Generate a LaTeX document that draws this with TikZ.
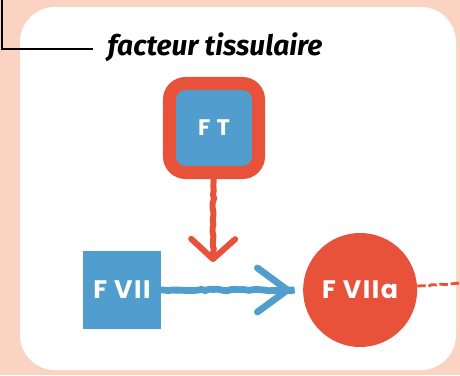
\documentclass[tikz,border=0pt]{standalone}
\usepackage{fontspec}
\newfontfamily\labelfont[LetterSpace=6]{Poppins}
\newfontfamily\handfont{Fira Sans}
\usetikzlibrary{arrows.meta, positioning, decorations.pathmorphing}
\definecolor{peach}{HTML}{FAD3C3}
\definecolor{ftred}{HTML}{E8513A}
\definecolor{ftblue}{HTML}{519DCD}

\begin{document}
\begin{tikzpicture}[
    x=0.025cm, y=-0.025cm,
    factor/.style={rectangle, fill=ftblue, text=white, inner sep=0pt, minimum size=1.925cm, font=\labelfont\bfseries\fontsize{18}{18}\selectfont},
    tissue/.style={factor, draw=ftred, line width=0.325cm, minimum size=2.225cm, rounded corners=0.4cm, font=\labelfont\bfseries\fontsize{16}{16}\selectfont},
    active/.style={circle, fill=ftred, text=white, inner sep=0pt, minimum size=2.85cm, font=\labelfont\bfseries\fontsize{18}{18}\selectfont},
    rough/.style={decorate, decoration={random steps, segment length=3pt, amplitude=0.6pt, pre length=2pt, post length=6pt}},
    redarrow/.style={rough, draw=ftred, line width=0.15cm, -{Straight Barb[length=0.5cm, width=1.1cm, round]}},
    bluearrow/.style={rough, draw=ftblue, line width=0.17cm, -{Straight Barb[length=0.75cm, width=1.1cm, round]}},
    reddash/.style={rough, draw=ftred, line width=0.07cm, dash pattern=on 6pt off 2pt}
]
\useasboundingbox (0,0) rectangle (460,375);

% Background and panel
\fill[peach] (0,0) rectangle (460,375);
\fill[white, rounded corners=0.875cm] (20,7) rectangle (456,370);

% Label with leader line
\node[font=\handfont\bfseries\itshape\fontsize{20}{20}\selectfont] (ftlabel) at (215,47) {facteur tissulaire};
\coordinate (leadtop) at (2,-2);
\draw[line width=0.05cm] (leadtop) |- ([xshift=-0.25cm, yshift=-0.05cm]ftlabel.west);

% Factors
\node[tissue] (ft) at (214,128) {F T};
\node[factor] (fvii) at (122,290) {F VII};
\node[active, right=3.55cm of fvii] (fviia) {F VIIa};

% Arrows
\coordinate (ftend) at (213,262);
\coordinate (outend) at (462,283);
\draw[redarrow] (ft) -- (ftend);
\draw[bluearrow, shorten >=0.3cm] (fvii) -- (fviia);
\draw[reddash] (fviia) -- (outend);

\end{tikzpicture}
\end{document}
